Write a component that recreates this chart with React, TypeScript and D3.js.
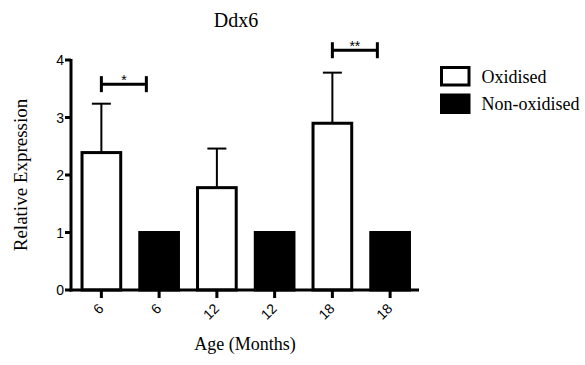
import React from "react";
import * as d3 from "d3";

const width = 585;
const height = 365;

// chart data
const ages = ["6", "6", "12", "12", "18", "18"];
const groups = ["Oxidised", "Non-oxidised", "Oxidised", "Non-oxidised", "Oxidised", "Non-oxidised"];
const means = [2.39, 1, 1.78, 1, 2.9, 1];
const errors = [0.85, 0, 0.68, 0, 0.88, 0];
const yTicks = [0, 1, 2, 3, 4];
const legendItems = ["Oxidised", "Non-oxidised"];
// significance brackets: from bar index, to bar index, height, label
const sigFrom = [0, 4];
const sigTo = [1, 5];
const sigY = [3.58, 4.17];
const sigLabels = ["*", "**"];

const margin = { top: 60, left: 71, right: 166, bottom: 75 };
const axisFont = "Arial, 'Liberation Sans', sans-serif";
const serif = "'Times New Roman', 'Liberation Serif', serif";

const App = () => {
  const idx = ages.map((_, i) => String(i));
  const x = d3
    .scaleBand()
    .domain(idx)
    .range([72.5, 419])
    .paddingInner(0.33)
    .paddingOuter(0.165);
  const y = d3.scaleLinear().domain([0, 4]).range([height - margin.bottom, margin.top]);
  const bw = x.bandwidth();
  const fill = d3.scaleOrdinal<string, string>().domain(legendItems).range(["#fff", "#000"]);

  return (
    <svg width={width} height={height} style={{ position: "absolute", left: 0, top: 0, background: "#fff" }}>
      <text x={236} y={27} textAnchor="middle" fontFamily={serif} fontSize={20}>
        Ddx6
      </text>

      {/* bars */}
      {means.map((m, i) => {
        const x0 = x(String(i))!;
        const cx = x0 + bw / 2;
        return (
          <g key={i}>
            {errors[i] > 0 && (
              <g stroke="#000" strokeWidth={2}>
                <line x1={cx} x2={cx} y1={y(m)} y2={y(m + errors[i])} />
                <line x1={cx - 9.5} x2={cx + 9.5} y1={y(m + errors[i])} y2={y(m + errors[i])} />
              </g>
            )}
            <rect
              x={x0}
              y={y(m)}
              width={bw}
              height={y(0) - y(m)}
              fill={fill(groups[i])}
              stroke="#000"
              strokeWidth={3}
            />
          </g>
        );
      })}

      {/* y axis */}
      <g>
        <line x1={margin.left} x2={margin.left} y1={y(0) + 1.5} y2={y(4) - 1} stroke="#000" strokeWidth={3} />
        {yTicks.map((t) => (
          <g key={t}>
            <line x1={margin.left - 6} x2={margin.left} y1={y(t)} y2={y(t)} stroke="#000" strokeWidth={3} />
            <text
              x={margin.left - 7}
              y={y(t)}
              dy="0.36em"
              textAnchor="end"
              fontFamily={axisFont}
              fontSize={14}
            >
              {t}
            </text>
          </g>
        ))}
      </g>

      {/* x axis */}
      <g>
        <line x1={margin.left - 1.5} x2={419} y1={y(0)} y2={y(0)} stroke="#000" strokeWidth={3} />
        {ages.map((a, i) => {
          const cx = x(String(i))! + bw / 2;
          return (
            <g key={i}>
              <line x1={cx} x2={cx} y1={y(0)} y2={y(0) + 8} stroke="#000" strokeWidth={3} />
              <text
                transform={`translate(${cx - 0.5},${y(0) + 16}) rotate(-45)`}
                textAnchor="end"
                dy="0.36em"
                fontFamily={axisFont}
                fontSize={14}
              >
                {a}
              </text>
            </g>
          );
        })}
      </g>

      {/* significance */}
      {sigLabels.map((lab, k) => {
        const x1 = x(String(sigFrom[k]))! + bw / 2;
        const x2 = x(String(sigTo[k]))! + bw * 0.17;
        const yy = y(sigY[k]);
        return (
          <g key={k} stroke="#000" strokeWidth={3}>
            <line x1={x1} x2={x2} y1={yy} y2={yy} />
            <line x1={x1} x2={x1} y1={yy - 8} y2={yy + 8} />
            <line x1={x2} x2={x2} y1={yy - 8} y2={yy + 8} />
            <text
              x={(x1 + x2) / 2}
              y={yy + 1}
              textAnchor="middle"
              fontFamily={axisFont}
              fontSize={14}
              stroke="none"
            >
              {lab}
            </text>
          </g>
        );
      })}

      {/* axis titles */}
      <text
        transform={`translate(27,${(y(0) + y(4)) / 2}) rotate(-90)`}
        textAnchor="middle"
        fontFamily={serif}
        fontSize={19}
      >
        Relative Expression
      </text>
      <text x={245} y={350} textAnchor="middle" fontFamily={serif} fontSize={18}>
        Age (Months)
      </text>

      {/* legend */}
      {legendItems.map((g, i) => (
        <g key={g} transform={`translate(441.5,${67.5 + i * 27.5})`}>
          <rect width={27.5} height={17.5} fill={fill(g)} stroke="#000" strokeWidth={3} />
          <text x={40} y={15} fontFamily={serif} fontSize={18}>
            {g}
          </text>
        </g>
      ))}
    </svg>
  );
};

export default App;
